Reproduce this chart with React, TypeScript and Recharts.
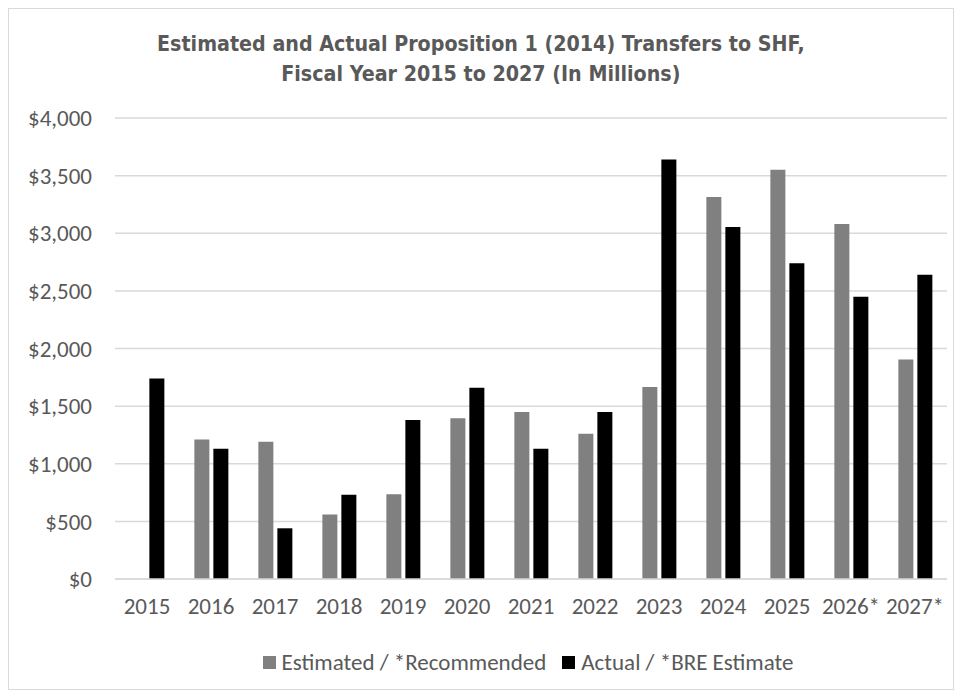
import { BarChart, Bar, XAxis, YAxis, CartesianGrid, Legend } from 'recharts'

const years = ['2015', '2016', '2017', '2018', '2019', '2020', '2021', '2022', '2023', '2024', '2025', '2026*', '2027*']
const estimated = [null, 1210, 1190, 560, 735, 1395, 1450, 1260, 1665, 3315, 3550, 3080, 1905]
const actual = [1740, 1130, 440, 730, 1380, 1660, 1130, 1450, 3640, 3055, 2740, 2450, 2640]
const yTicks = [0, 500, 1000, 1500, 2000, 2500, 3000, 3500, 4000]

const data = years.map((year, i) => ({ year, estimated: estimated[i], actual: actual[i] }))

const GREY = '#808080'
const TEXT = '#595959'
const FONT = 'Calibri, Carlito, "Open Sans", sans-serif'

const money = (v: number) => '$' + v.toLocaleString('en-US')

function LegendBox() {
  const item = (color: string, label: string) => (
    <span style={{ display: 'inline-flex', alignItems: 'center', margin: '0 8px' }}>
      <span style={{ width: 13, height: 13, background: color, marginRight: 6, display: 'inline-block' }} />
      {label}
    </span>
  )
  return (
    <div style={{ height: 26, paddingLeft: 100, display: 'flex', justifyContent: 'center', alignItems: 'center', fontFamily: FONT, fontSize: 23, color: TEXT }}>
      {item(GREY, 'Estimated / *Recommended')}
      {item('#000000', 'Actual / *BRE Estimate')}
    </div>
  )
}

export default function App() {
  return (
    <div style={{ position: 'relative', width: 946, height: 682, border: '1px solid #d9d9d9', boxSizing: 'border-box', background: '#fff' }}>
      <div style={{ position: 'absolute', top: 20, left: 0, width: 944, textAlign: 'center', fontFamily: '"DejaVu Sans", sans-serif', fontWeight: 'bold', fontSize: 21, lineHeight: '30px', color: TEXT }}>
        <div style={{ display: 'inline-block', transform: 'scaleX(0.91)', whiteSpace: 'nowrap' }}>
          Estimated and Actual Proposition 1 (2014) Transfers to SHF,
          <br />
          Fiscal Year 2015 to 2027 (In Millions)
        </div>
      </div>
      <BarChart width={944} height={680} data={data} margin={{ top: 109, right: 6, bottom: 14, left: 0 }} barGap={4} barCategoryGap="24%">
        <CartesianGrid vertical={false} stroke="#d9d9d9" strokeWidth={1.5} />
        <XAxis dataKey="year" axisLine={{ stroke: '#d9d9d9', strokeWidth: 1.5 }} tickLine={false} tickSize={0} tickMargin={19} height={70} interval={0}
          tick={{ fill: TEXT, fontSize: 23, fontFamily: FONT }} />
        <YAxis domain={[0, 4000]} ticks={yTicks} tickFormatter={money} axisLine={false} tickLine={false} tickSize={0} tickMargin={23} width={106}
          tick={{ fill: TEXT, fontSize: 23, fontFamily: FONT }} />
        <Legend verticalAlign="bottom" content={() => <LegendBox />} />
        <Bar dataKey="estimated" name="Estimated / *Recommended" fill={GREY} isAnimationActive={false} />
        <Bar dataKey="actual" name="Actual / *BRE Estimate" fill="#000000" isAnimationActive={false} />
      </BarChart>
    </div>
  )
}
